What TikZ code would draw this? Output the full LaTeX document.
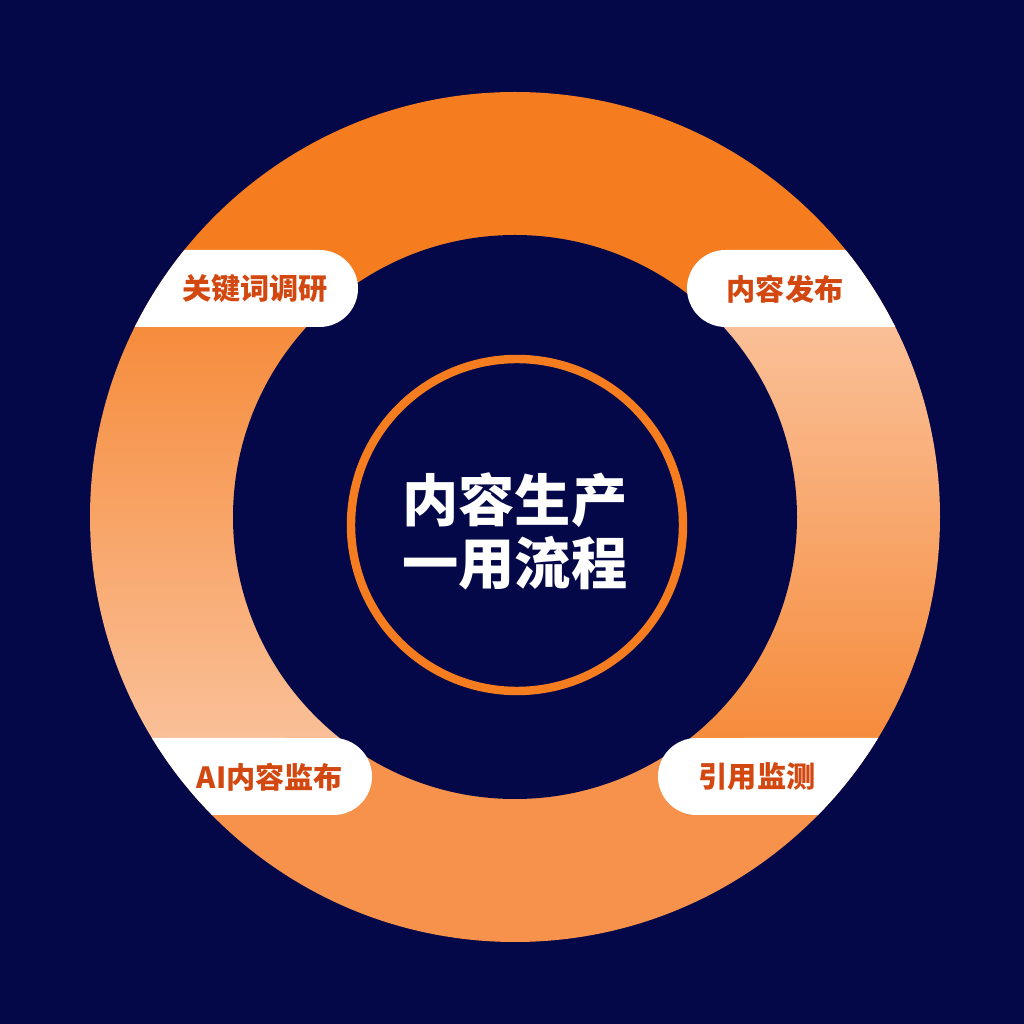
\documentclass[tikz,border=0pt]{standalone}
\usepackage{fontspec}
\usepackage{tikz}
\newfontfamily\cjk{Noto Sans CJK SC}
\definecolor{navy}{RGB}{4,8,72}
\definecolor{ringorange}{RGB}{245,125,32}
\definecolor{ringpeach}{RGB}{250,192,152}
\definecolor{ringmid}{RGB}{246,140,60}
\definecolor{ringlow}{RGB}{246,146,76}
\definecolor{labelred}{RGB}{210,72,16}

\begin{document}
\begin{tikzpicture}
\tikzstyle{steplabel}=[inner sep=0pt, text=labelred, font=\cjk\bfseries\fontsize{8.3}{10}\selectfont]
\tikzstyle{title}=[inner sep=0pt, text=white, align=center, font=\cjk\bfseries\fontsize{16}{17.9}\selectfont]
\fill [navy] (0,0) rectangle (10.24,10.24);
\coordinate (c) at (5.15,5.07);
\begin{scope}
\clip (c) circle (4.25);
\fill [ringorange] (0,7.0) rectangle (10.24,10.24);
\shade [top color=ringpeach, bottom color=ringmid] (5.15,2.83) rectangle (10.24,7.0);
\shade [top color=ringmid, bottom color=ringpeach] (0,2.83) rectangle (5.15,7.0);
\fill [ringlow] (0,0) rectangle (10.24,2.83);
\fill [navy] (c) circle (2.82);
\fill [white] (0,6.97) -- (3.195,6.97) arc (-90:90:0.385) -- (0,7.74) -- cycle;
\fill [white] (10.24,6.97) -- (7.255,6.97) arc (270:90:0.385) -- (10.24,7.74) -- cycle;
\fill [white] (0,2.09) -- (3.335,2.09) arc (-90:90:0.385) -- (0,2.86) -- cycle;
\fill [white] (10.24,2.09) -- (6.965,2.09) arc (270:90:0.385) -- (10.24,2.86) -- cycle;
\end{scope}
\draw [ringorange, line width=2.4pt] (5.17,4.99) circle (1.66);
\node [title] (core) at (5.15,4.925) {内容生产\\一用流程};
\node [steplabel] (research) at (2.55,7.35) {关键词调研};
\node [steplabel] (publish) at (7.85,7.35) {内容发布};
\node [steplabel] (aimonitor) at (2.70,2.47) {AI内容监布};
\node [steplabel] (citation) at (7.57,2.47) {引用监测};
\end{tikzpicture}
\end{document}
